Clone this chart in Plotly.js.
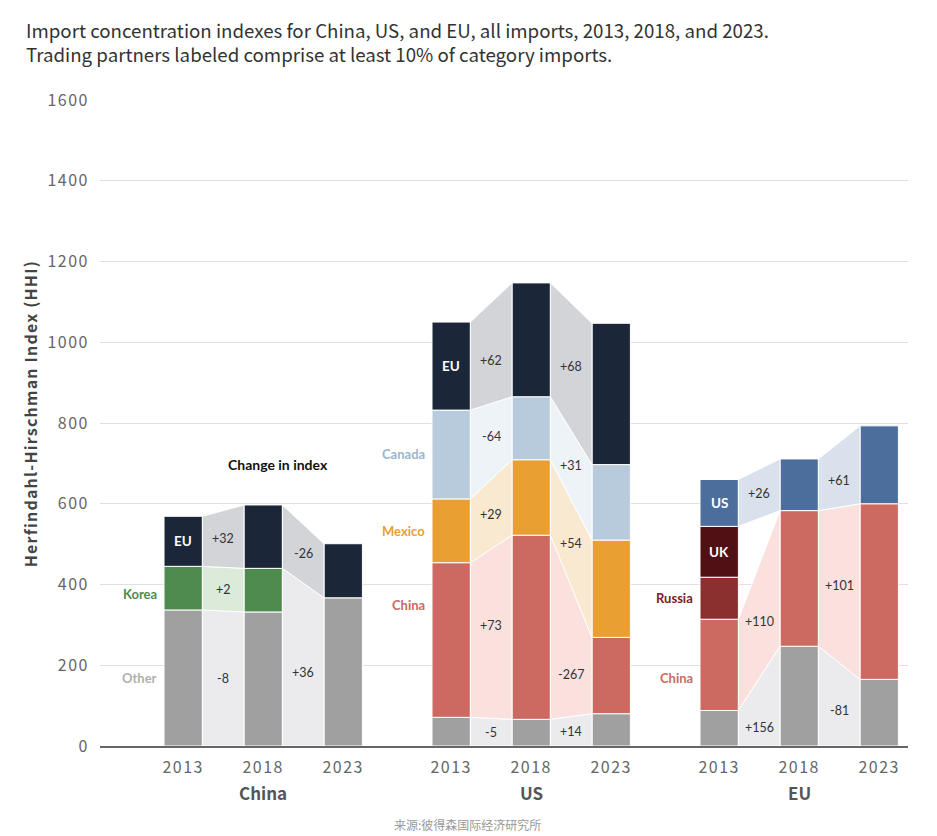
<!DOCTYPE html>
<html><head><meta charset="utf-8">
<script src="https://cdn.plot.ly/plotly-3.0.1.min.js"></script>
<style>
html,body{margin:0;padding:0;background:#fff;}
#chart{width:937px;height:836px;}
.xtick text,.ytick text{letter-spacing:1.5px;}
</style></head><body><div id="chart"></div>
<script>
// ---------- DATA ----------
const years = ['2013', '2018', '2023'];
const groups = ['China', 'US', 'EU'];

// China's imports (HHI contribution per partner)
const chinaOther = [337, 332, 367];
const chinaKorea = [108, 108, 0];
const chinaEU    = [124, 157, 134];
const chinaOtherChg = ['-8', '+36'];
const chinaKoreaChg = ['+2', ''];
const chinaEUChg    = ['+32', '-26'];

// US imports
const usOther  = [71, 66, 80];
const usChina  = [383, 456, 189];
const usMexico = [158, 187, 241];
const usCanada = [220, 156, 187];
const usEU     = [218, 282, 350];
const usOtherChg  = ['-5', '+14'];
const usChinaChg  = ['+73', '-267'];
const usMexicoChg = ['+29', '+54'];
const usCanadaChg = ['-64', '+31'];
const usEUChg     = ['+62', '+68'];

// EU imports
const euOther  = [88, 247, 165];
const euChina  = [226, 336, 435];
const euRussia = [104, 0, 0];
const euUK     = [126, 0, 0];
const euUS     = [116, 128, 193];
const euOtherChg = ['+156', '-81'];
const euChinaChg = ['+110', '+101'];
const euUSChg    = ['+26', '+61'];

// ---------- STYLES ----------
const styles = {
  Other:  {bar:'#a0a0a0', rib:'#ebebee', label:'#b0b0b0'},
  Korea:  {bar:'#4f8a4f', rib:'#dcebd9', label:'#4f8a4f', absorb:true},
  EU:     {bar:'#1b2639', rib:'#d3d4d8', label:'#ffffff', inside:true},
  Canada: {bar:'#b8cbdd', rib:'#eef3f8', label:'#9bb5cc'},
  Mexico: {bar:'#e99f31', rib:'#f9e9d0', label:'#e99f31'},
  China:  {bar:'#cc6a62', rib:'#fbe1de', label:'#cc6a62'},
  US:     {bar:'#4c6e9d', rib:'#d9e2ec', label:'#ffffff', inside:true},
  UK:     {bar:'#4f1113', rib:null, label:'#ffffff', inside:true},
  Russia: {bar:'#8b2f2f', rib:null, label:'#7b2224'}
};

const groupSeries = [
  [ {name:'Other', v:chinaOther, chg:chinaOtherChg},
    {name:'Korea', v:chinaKorea, chg:chinaKoreaChg},
    {name:'EU', v:chinaEU, chg:chinaEUChg} ],
  [ {name:'Other', v:usOther, chg:usOtherChg, noName:true},
    {name:'China', v:usChina, chg:usChinaChg},
    {name:'Mexico', v:usMexico, chg:usMexicoChg},
    {name:'Canada', v:usCanada, chg:usCanadaChg},
    {name:'EU', v:usEU, chg:usEUChg} ],
  [ {name:'Other', v:euOther, chg:euOtherChg, noName:true},
    {name:'China', v:euChina, chg:euChinaChg},
    {name:'Russia', v:euRussia, chg:null},
    {name:'UK', v:euUK, chg:null},
    {name:'US', v:euUS, chg:euUSChg} ]
];

// label nudges in pixels (positive = up)
const chgNudge = {'US|China|0':8, 'US|China|1':-23, 'US|EU|0':-8, 'US|Canada|0':5,
  'EU|Other|0':-15, 'EU|Other|1':-6, 'EU|US|1':-6, 'China|Other|1':-8};
const nameNudge = {'China|Korea':-6, 'US|China':35, 'EU|China':-13};

// ---------- GEOMETRY ----------
const groupStride = 3.35;
const barW = 0.48;
const pos = (g, i) => g * groupStride + i;

const ribbonTraces = [], barTraces = [], annotations = [];
const tickvals = [], ticktext = [];

groupSeries.forEach((series, g) => {
  const gname = groups[g];
  years.forEach((y, i) => { tickvals.push(pos(g, i)); ticktext.push(y); });
  const bases = series.map(() => [0, 0, 0]);
  for (let i = 0; i < 3; i++) {
    let acc = 0;
    series.forEach((s, k) => { bases[k][i] = acc; acc += s.v[i]; });
  }
  for (let t = 0; t < 2; t++) {
    series.forEach((s, k) => {
      const st = styles[s.name];
      if (!st.rib || s.v[t] <= 0 || s.v[t + 1] <= 0) return;
      const sb = bases[k][t];
      let stp = sb + s.v[t];
      let j = k + 1;
      while (j < series.length && series[j].v[t] > 0 && series[j].v[t + 1] === 0 && styles[series[j].name].absorb) {
        stp += series[j].v[t]; j++;
      }
      const db = bases[k][t + 1], dt = db + s.v[t + 1];
      const x0 = pos(g, t) + barW / 2, x1 = pos(g, t + 1) - barW / 2;
      ribbonTraces.push({
        type:'scatter', mode:'lines', fill:'toself', fillcolor:st.rib,
        x:[x0, x1, x1, x0, x0], y:[sb, db, dt, stp, sb],
        line:{color:'#ffffff', width:1}, hoverinfo:'skip'
      });
      if (s.chg && s.chg[t]) {
        annotations.push({
          x:(x0 + x1) / 2, y:(sb + stp + db + dt) / 4, xref:'x', yref:'y',
          text:s.chg[t], showarrow:false,
          yshift:chgNudge[gname + '|' + s.name + '|' + t] || 0,
          font:{family:'Lato, sans-serif', size:12.5, color:'#333'}
        });
      }
    });
  }
  series.forEach((s, k) => {
    const st = styles[s.name];
    const xs = [], ys = [], bs = [];
    s.v.forEach((val, i) => { if (val > 0) { xs.push(pos(g, i)); ys.push(val); bs.push(bases[k][i]); } });
    barTraces.push({
      type:'bar', x:xs, y:ys, base:bs, width:barW,
      marker:{color:st.bar, line:{color:'#ffffff', width:1}},
      hoverinfo:'skip'
    });
    if (s.noName) return;
    const mid = bases[k][0] + s.v[0] / 2;
    if (st.inside) {
      annotations.push({x:pos(g, 0), y:mid, xref:'x', yref:'y', text:'<b>' + s.name + '</b>',
        showarrow:false, font:{family:'Lato, sans-serif', size:13.5, color:st.label}});
    } else {
      annotations.push({x:pos(g, 0) - barW / 2, y:mid, xref:'x', yref:'y', text:'<b>' + s.name + '</b>',
        xanchor:'right', xshift:-5, yshift:nameNudge[gname + '|' + s.name] || 0,
        showarrow:false, font:{family:'Lato, sans-serif', size:13, color:st.label}});
    }
  });
  annotations.push({x:pos(g, 1), y:0, xref:'x', yref:'paper', yanchor:'middle', yshift:-46,
    text:'<b>' + gname + '</b>', showarrow:false,
    font:{family:'Noto Sans CJK SC, sans-serif', size:17, color:'#555'}});
});

annotations.push({x:pos(0, 0) + 1.19, y:696, xref:'x', yref:'y', text:'<b>Change in index</b>',
  showarrow:false, font:{family:'Lato, sans-serif', size:14, color:'#111'}});
annotations.push({x:0.455, y:0, xref:'paper', yref:'paper', yanchor:'middle', yshift:-78,
  text:'来源:彼得森国际经济研究所', showarrow:false,
  font:{family:'Noto Sans CJK SC, sans-serif', size:12, color:'#999'}});
// y-axis title as rotated annotation (positioned like the reference)
annotations.push({x:0, y:0.5, xref:'paper', yref:'paper', xanchor:'center', yanchor:'middle',
  xshift:-70, yshift:9, textangle:-90, showarrow:false,
  text:'<b>Herfindahl-Hirschman Index (HHI)</b>',
  font:{family:'Noto Sans CJK SC, sans-serif', size:16, color:'#444'}});

const layout = {
  width:937, height:836,
  margin:{l:100, r:29, t:100, b:90},
  paper_bgcolor:'#ffffff', plot_bgcolor:'#ffffff',
  showlegend:false, hovermode:false, barmode:'overlay',
  font:{family:'Noto Sans CJK SC, Noto Sans, sans-serif'},
  title:{
    text:'Import concentration indexes for China, US, and EU, all imports, 2013, 2018, and 2023.<br>Trading partners labeled comprise at least 10% of category imports.',
    x:26 / 937, xanchor:'left', xref:'container', y:1 - 38 / 836, yanchor:'top', yref:'container',
    pad:{t:0, l:0, r:0, b:0},
    font:{family:'Noto Sans CJK SC, sans-serif', size:18.7, color:'#333'}
  },
  xaxis:{range:[-1.04, 9.06], tickvals:tickvals, ticktext:ticktext, showgrid:false, zeroline:false,
    showline:true, linecolor:'#666', linewidth:2, ticks:'', ticklabelstandoff:6,
    tickfont:{size:16, color:'#666'}, fixedrange:true},
  yaxis:{range:[0, 1600], tickvals:[0, 200, 400, 600, 800, 1000, 1200, 1400, 1600],
    showgrid:true, gridcolor:'#e0e0e0', gridwidth:1, zeroline:false, ticks:'',
    ticklabelstandoff:10, tickfont:{size:16, color:'#666'}, fixedrange:true},
  annotations:annotations
};

Plotly.newPlot('chart', ribbonTraces.concat(barTraces), layout, {displayModeBar:false, staticPlot:true}).then(() => {
  document.querySelectorAll('.annotation-text').forEach(el => {
    if (el.textContent.indexOf('Herfindahl') === 0) el.style.letterSpacing = '1.2px';
  });
});
</script></body></html>
